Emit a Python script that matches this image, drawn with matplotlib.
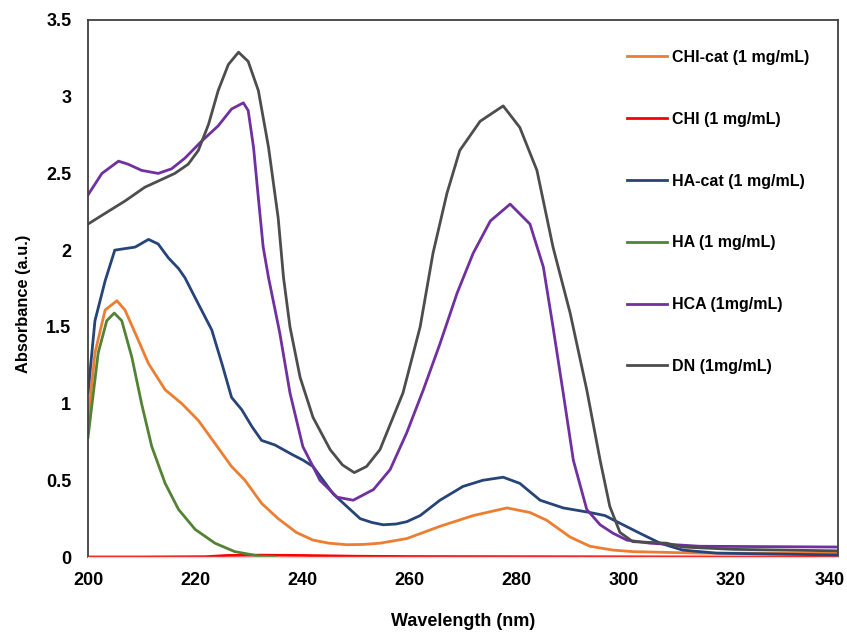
import matplotlib
matplotlib.use("Agg")
import matplotlib.pyplot as plt
import matplotlib.transforms as mtransforms

plt.rcParams['font.family'] = ['Liberation Sans', 'DejaVu Sans']

# --- data ---
wl_chicat = [200, 201.3, 203.2, 205.4, 206.9, 208.8, 211.3, 214.4, 217.5, 220.6, 223.7, 226.8,
             229.3, 232.4, 235.5, 238.9, 242, 245, 248.3, 251.5, 254.5, 259.5, 265.7, 271.9,
             278.2, 282.5, 285.6, 290, 293.7, 298, 301.7, 314.2, 340]
chicat = [0.89, 1.33, 1.61, 1.67, 1.61, 1.46, 1.26, 1.09, 1.00, 0.89, 0.74, 0.59, 0.50, 0.35,
          0.25, 0.16, 0.11, 0.09, 0.08, 0.082, 0.09, 0.12, 0.20, 0.27, 0.32, 0.29, 0.24, 0.13,
          0.07, 0.045, 0.035, 0.025, 0.025]

wl_chi = [200, 210, 222, 226, 232, 240, 250, 260, 280, 300, 320, 340]
chi = [0.0, 0.0, 0.002, 0.01, 0.012, 0.01, 0.005, 0.003, 0.002, 0.001, 0.0, 0.0]

wl_hacat = [200, 201.3, 203.2, 205, 206.9, 208.8, 211.3, 213.1, 215, 216.9, 218.1, 220, 223.1,
            225, 226.8, 228.7, 230.6, 232.4, 234.9, 238, 240.2, 242, 243.9, 245.8, 248.3,
            250.8, 253, 255.1, 257.5, 259.5, 262, 265.7, 270, 273.7, 277.5, 280.6, 284.4,
            288.7, 293.7, 296.5, 299.3, 303, 306.8, 311, 317.4, 340]
hacat = [1.07, 1.54, 1.80, 2.00, 2.01, 2.02, 2.07, 2.04, 1.95, 1.88, 1.82, 1.69, 1.48, 1.26,
         1.04, 0.96, 0.85, 0.76, 0.73, 0.67, 0.63, 0.59, 0.50, 0.41, 0.33, 0.25, 0.225, 0.21,
         0.215, 0.23, 0.27, 0.37, 0.46, 0.50, 0.52, 0.48, 0.37, 0.32, 0.29, 0.27, 0.22, 0.155,
         0.09, 0.045, 0.025, 0.013]

wl_ha = [200, 201.9, 203.5, 204.9, 206.3, 208.2, 210, 211.9, 214.4, 216.9, 220, 223.7, 227.4,
         231.8, 235]
ha = [0.78, 1.33, 1.54, 1.59, 1.54, 1.30, 1.00, 0.72, 0.48, 0.31, 0.18, 0.09, 0.035, 0.007, 0.0]

wl_hca = [200, 202.6, 205.7, 207.5, 210, 213.1, 215.6, 218.1, 221.2, 224.3, 226.8, 229, 229.9,
          230.9, 231.8, 232.7, 233.7, 235.8, 237.7, 240.1, 243.3, 246.5, 249.5, 253.3, 256.4,
          259.5, 262.6, 265.7, 268.9, 271.9, 275.1, 278.8, 282.5, 285, 286.8, 288.7, 290.6,
          293.1, 295.6, 298, 300.6, 304.9, 314.2, 340]
hca = [2.36, 2.50, 2.58, 2.56, 2.52, 2.50, 2.53, 2.60, 2.71, 2.81, 2.92, 2.96, 2.91, 2.67, 2.34,
       2.02, 1.82, 1.46, 1.07, 0.72, 0.50, 0.39, 0.37, 0.44, 0.57, 0.81, 1.09, 1.39, 1.72, 1.98,
       2.19, 2.30, 2.17, 1.89, 1.50, 1.07, 0.63, 0.31, 0.21, 0.155, 0.11, 0.09, 0.07, 0.065]

wl_dn = [200, 203.2, 206.9, 210.6, 213.1, 216.2, 218.7, 220.6, 222.5, 224.3, 226.2, 228.1,
         229.9, 231.8, 233.7, 235.5, 236.5, 237.7, 239.6, 242, 245.2, 247.5, 249.7, 252,
         254.5, 258.8, 262, 264.4, 267, 269.4, 273.2, 277.5, 280.6, 283.8, 286.8, 290, 293.1,
         295.6, 297.4, 299.3, 301.7, 308, 311, 320.4, 340]
dn = [2.17, 2.24, 2.32, 2.41, 2.45, 2.50, 2.56, 2.65, 2.82, 3.04, 3.21, 3.29, 3.23, 3.04, 2.67,
      2.21, 1.82, 1.50, 1.17, 0.91, 0.70, 0.60, 0.55, 0.59, 0.70, 1.07, 1.50, 1.98, 2.37, 2.65,
      2.84, 2.94, 2.80, 2.52, 2.02, 1.59, 1.09, 0.63, 0.33, 0.16, 0.10, 0.09, 0.065, 0.05, 0.04]

series = [
    (wl_chicat, chicat, 'CHI-cat (1 mg/mL)', '#ED7D31'),
    (wl_chi, chi, 'CHI (1 mg/mL)', '#FF0000'),
    (wl_hacat, hacat, 'HA-cat (1 mg/mL)', '#264478'),
    (wl_ha, ha, 'HA (1 mg/mL)', '#548235'),
    (wl_hca, hca, 'HCA (1mg/mL)', '#7030A0'),
    (wl_dn, dn, 'DN (1mg/mL)', '#4D4D4D'),
]

fig = plt.figure(figsize=(8.47, 6.32), dpi=100)
ax = fig.add_axes([88 / 847, 75 / 632, 750 / 847, 537 / 632])

for x, y, label, color in series:
    ax.plot(x, y, color=color, lw=2.0, label=label, solid_joinstyle='round')

ax.set_xlim(200, 340)
ax.set_ylim(0, 3.5)
ax.set_xticks(range(200, 341, 20))
ax.set_yticks([0, 0.5, 1, 1.5, 2, 2.5, 3, 3.5])
ax.set_yticklabels(['0', '0.5', '1', '1.5', '2', '2.5', '3', '3.5'])
ax.tick_params(length=0, labelsize=13)
ax.tick_params(axis='x', pad=10.5)
ax.tick_params(axis='y', pad=12)
for lab in ax.get_xticklabels() + ax.get_yticklabels():
    lab.set_fontweight('bold')

# last x label sits a bit inside the figure edge, as in the reference
last = ax.get_xticklabels()[-1]
last.set_transform(last.get_transform() +
                   mtransforms.ScaledTranslation(-8 / 100, 0, fig.dpi_scale_trans))

for side in ['left', 'top', 'right']:
    ax.spines[side].set_color('#404040')
    ax.spines[side].set_linewidth(1.3)
ax.spines['bottom'].set_color('#d9d9d9')
ax.spines['bottom'].set_linewidth(1.0)

ax.set_xlabel('Wavelength (nm)', fontsize=13, fontweight='bold', va='center')
ax.xaxis.set_label_coords(0.5, (557 - 622) / 537)
ax.set_ylabel('Absorbance (a.u.)', fontsize=11.8, fontweight='bold', va='center')
ax.yaxis.set_label_coords((24 - 88) / 750, (557 - 304) / 537)

ax.legend(loc='upper left', bbox_to_anchor=(627 / 847, 1 - 50 / 632),
          bbox_transform=fig.transFigure, frameon=False, borderpad=0,
          borderaxespad=0, handlelength=2.5, handletextpad=0.3, labelspacing=2.93,
          prop={'weight': 'bold', 'size': 11.5})

fig.savefig('out.png', dpi=100)
